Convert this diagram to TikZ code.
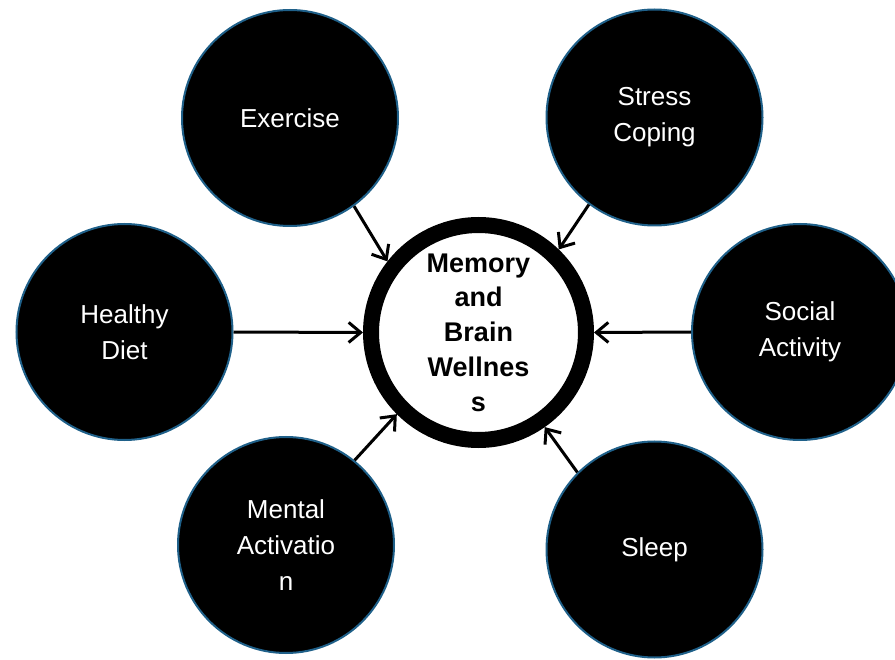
\documentclass[tikz,border=0pt]{standalone}
\usepackage{fontspec}
\setmainfont{Liberation Sans}
\usetikzlibrary{arrows.meta}
\definecolor{rimblue}{HTML}{1F6089}
\begin{document}
\begin{tikzpicture}[x=1pt,y=-1pt,
  factor/.style={circle, fill=black, draw=rimblue, line width=2pt, minimum size=216pt,
    inner sep=0pt, outer sep=1pt, text=white, align=center,
    font=\fontsize{26}{36}\selectfont},
  hub/.style={circle, fill=white, draw=black, line width=16pt, minimum size=215pt,
    inner sep=0pt, outer sep=8pt, align=center,
    font=\bfseries\fontsize{27}{34.7}\selectfont},
  link/.style={line width=3pt, -{Straight Barb[length=12pt,width=20pt]}}]
\useasboundingbox (0,0) rectangle (895,660);
\clip (0,0) rectangle (895,660);
\node[hub] (mem) at (478.5,332.5) {Memory\\and\\Brain\\Wellnes\\s};
\node[factor] (ex) at (290,118) {Exercise};
\node[factor] (st) at (654.5,117.5) {Stress\\Coping};
\node[factor] (hd) at (124.5,332) {Healthy\\Diet};
\node[factor] (so) at (800,332) {Social\\Activity};
\node[factor] (ma) at (286,545) {Mental\\Activatio\\n};
\node[factor] (sl) at (654.5,549.5) {Sleep};
\draw[link] (ex.-54) -- (mem.142);
\draw[link] (st.-127) -- (mem.46);
\draw[link] (hd.east) -- (mem.west);
\draw[link] (so.west) -- (mem.east);
\draw[link] (ma.51) -- (mem.225);
\draw[link] (sl.135) -- (mem.-55);
\end{tikzpicture}
\end{document}
